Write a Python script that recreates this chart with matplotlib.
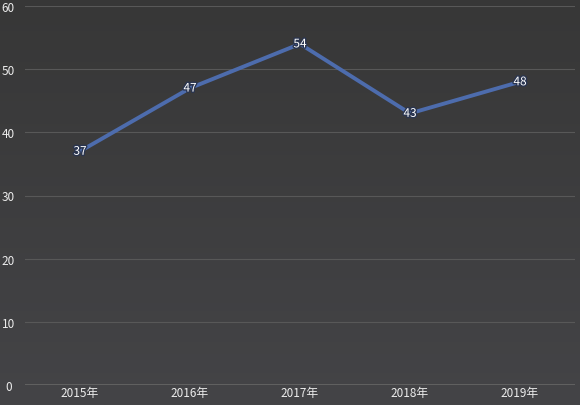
import numpy as np
import matplotlib as mpl
mpl.use('agg')
import matplotlib.pyplot as plt
import matplotlib.patheffects as pe

plt.rcParams['font.family'] = ['Noto Sans CJK SC', 'DejaVu Sans']

years = ['2015年', '2016年', '2017年', '2018年', '2019年']
values = [37, 47, 54, 43, 48]
yticks = [0, 10, 20, 30, 40, 50, 60]

fig = plt.figure(figsize=(5.8, 4.06), dpi=100)
fig.patch.set_facecolor('#3c3c3c')

# subtle vertical gradient for background
bg = fig.add_axes([0, 0, 1, 1], zorder=-10)
grad = np.linspace(0, 1, 256).reshape(-1, 1)
bg.imshow(grad, aspect='auto', cmap=mpl.colors.LinearSegmentedColormap.from_list(
    'bg', ['#373737', '#444447']), extent=[0, 1, 0, 1])
bg.axis('off')

ax = fig.add_axes([25/580, 20/406, 550/580, 379/406])
ax.set_facecolor('none')
x = np.arange(len(years))
ax.set_xlim(-0.5, len(years) - 0.5)
ax.set_ylim(0, 60)

ax.set_yticks(yticks)
ax.grid(axis='y', color='#585858', lw=0.8)
ax.set_axisbelow(True)
for s in ax.spines.values():
    s.set_visible(False)
ax.axhline(0, color='#666666', lw=1.2, zorder=1)

ax.plot(x, values, color='#4d6cad', lw=2.8, solid_joinstyle='miter', zorder=3)
for xi, v in zip(x, values):
    ax.text(xi, v, str(v), ha='center', va='center', color='white', fontsize=8.5,
            zorder=4, path_effects=[pe.withStroke(linewidth=2, foreground='#2a3550')])

ax.set_xticks(x)
ax.set_xticklabels(years)
ax.tick_params(axis='both', length=0, colors='#ececec', labelsize=8.5)
ax.tick_params(axis='y', pad=12)
ax.tick_params(axis='x', pad=1)
for lab in ax.get_yticklabels():
    lab.set_horizontalalignment('center')

plt.savefig('out.png', dpi=100, facecolor=fig.get_facecolor())
